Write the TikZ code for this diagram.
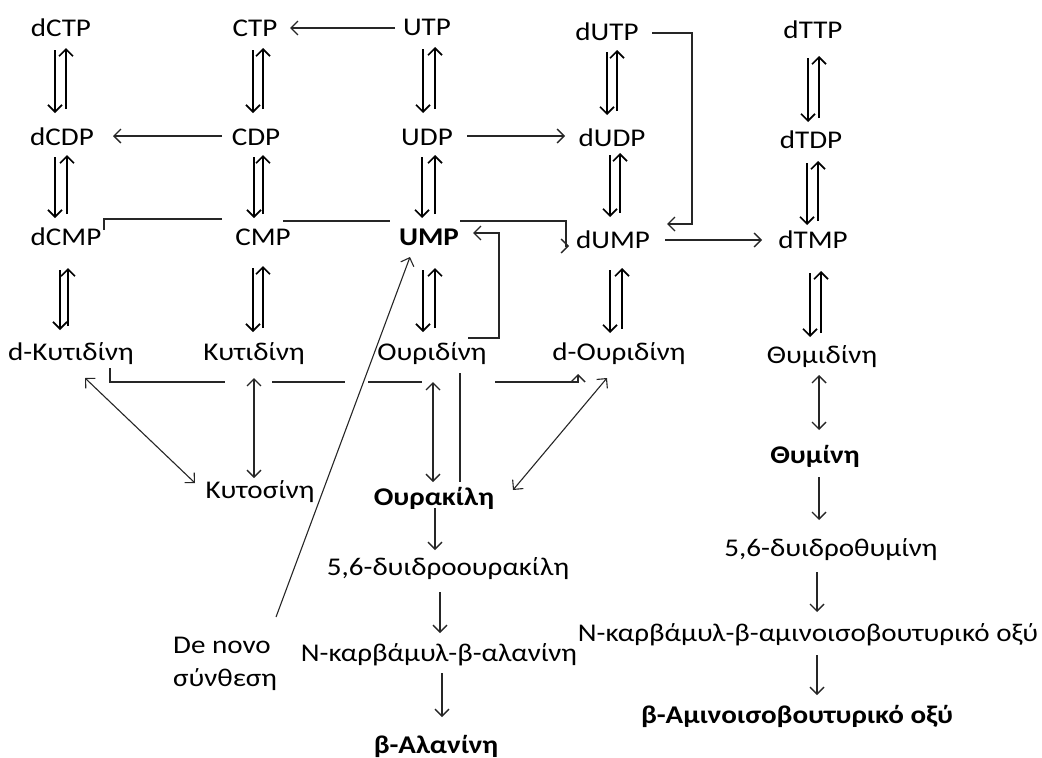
\documentclass[tikz,border=0pt]{standalone}
\usepackage{fontspec}
\setmainfont{Carlito}[FakeStretch=1.14]
\usetikzlibrary{arrows.meta,calc}
\newcommand\rxnpair[6]{%
  \draw[parr] ($(#1.center)+(#5,#3)$) -- ($(#1.center |- #2.center)+(#5,-#4)$);
  \draw[parr] ($(#1.center |- #2.center)+(#6,-#4-4)$) -- ($(#1.center)+(#6,#3-2)$);
}
\begin{document}
\begin{tikzpicture}[x=1pt,y=-1pt,
  lbl/.style={inner sep=0pt, text height=16pt, text depth=0pt, font=\fontsize{25.5}{30}\selectfont},
  blbl/.style={lbl, font=\fontsize{25.5}{30}\selectfont\bfseries},
  ln/.style={line width=1.4pt, black!85},
  thin/.style={line width=1.1pt, black!85},
  tip/.tip={Straight Barb[length=7pt,width=14pt]},
  arr/.style={ln, -tip},
  darr/.style={thin, tip-tip},
  parr/.style={line width=1.7pt, -tip},
]
\useasboundingbox (0,0) rectangle (1042,758);
% row 1
\node[lbl] (dCTP) at (61,28) {dCTP};
\node[lbl] (CTP) at (255,28) {CTP};
\node[lbl] (UTP) at (427,27) {UTP};
\node[lbl] (dUTP) at (607,32) {dUTP};
\node[lbl] (dTTP) at (813,30) {dTTP};
% row 2
\node[lbl] (dCDP) at (62,137) {dCDP};
\node[lbl] (CDP) at (256,137) {CDP};
\node[lbl] (UDP) at (427,137) {UDP};
\node[lbl] (dUDP) at (612,138) {dUDP};
\node[lbl] (dTDP) at (811,140) {dTDP};
% row 3
\node[lbl] (dCMP) at (66,237) {dCMP};
\node[lbl] (CMP) at (263,237) {CMP};
\node[blbl] (UMP) at (429,237) {UMP};
\node[lbl] (dUMP) at (613,240) {dUMP};
\node[lbl] (dTMP) at (813,240) {dTMP};
% row 4
\node[lbl] (dCyd) at (71,352) {d-Κυτιδίνη};
\node[lbl] (Cyd) at (254,352) {Κυτιδίνη};
\node[lbl] (Urd) at (432,352) {Ουριδίνη};
\node[lbl] (dUrd) at (619,352) {d-Ουριδίνη};
\node[lbl] (Thd) at (822,355) {Θυμιδίνη};
% bases and catabolites
\node[lbl] (Cyt) at (260,490) {Κυτοσίνη};
\node[blbl] (Ura) at (434,497) {Ουρακίλη};
\node[blbl] (Thy) at (815,455) {Θυμίνη};
\node[lbl] (DHU) at (448,567) {5,6-δυιδροουρακίλη};
\node[lbl] (NCBA) at (439,653) {N-καρβάμυλ-β-αλανίνη};
\node[blbl] (BALA) at (436,745) {β-Αλανίνη};
\node[lbl] (DHT) at (831,548) {5,6-δυιδροθυμίνη};
\node[lbl] (NCBAIB) at (808,633) {N-καρβάμυλ-β-αμινοισοβουτυρικό οξύ};
\node[blbl] (BAIB) at (797,715) {β-Αμινοισοβουτυρικό οξύ};
\node[inner sep=0pt, anchor=north west, align=left, font=\fontsize{25.5}{33}\selectfont] (DeNovo) at (173,637) {De novo\\σύνθεση};

% reversible pairs
\rxnpair{dCTP}{dCDP}{22}{24}{-6}{5}
\rxnpair{CTP}{CDP}{22}{24}{-2}{8}
\rxnpair{UTP}{UDP}{22}{24}{-4}{8}
\rxnpair{dUTP}{dUDP}{20}{23}{0}{10}
\rxnpair{dTTP}{dTDP}{28}{18}{-5}{6}
\rxnpair{dCDP}{dCMP}{20}{19}{-7}{5}
\rxnpair{CDP}{CMP}{20}{19}{-2}{7}
\rxnpair{UDP}{UMP}{20}{19}{-5}{8}
\rxnpair{dUDP}{dUMP}{17}{23}{-2}{8}
\rxnpair{dTDP}{dTMP}{23}{15}{-4}{7}
\rxnpair{dCMP}{dCyd}{33}{22}{-6}{2}
\rxnpair{CMP}{Cyd}{31}{20}{-10}{0}
\rxnpair{UMP}{Urd}{33}{20}{-6}{6}
\rxnpair{dUMP}{dUrd}{30}{19}{-3}{9}
\rxnpair{dTMP}{Thd}{33}{18}{-3}{8}

% horizontal conversions
\draw[arr] ($(UTP.center)+(-32,1)$) -- ($(CTP.center)+(35,0)$);
\draw[arr] ($(CDP.center)+(-34,-1)$) -- ($(dCDP.center)+(51,-1)$);
\draw[arr] ($(UDP.center)+(40,-1)$) -- ($(dUDP.center)+(-47,-2)$);
\draw[arr] ($(dUMP.center)+(52,0)$) -- ($(dTMP.center)+(-51,0)$);
\draw[arr] ($(dUTP.center)+(45,1)$) -- ($(dUTP.center)+(85,1)$) |- ($(dUMP.center)+(54,-16)$);
\draw[ln] ($(CMP.center)+(-41,-18)$) -| ($(dCMP.center)+(38,-7)$);
\draw[ln] ($(CMP.center)+(20,-16)$) -- ($(UMP.center)+(-39,-16)$);
\draw[arr] ($(UMP.center)+(31,-16)$) -| ($(dUMP.center)+(-47,6)$) -- ($(dUMP.center)+(-44,6)$);
\draw[arr] ($(Urd.center)+(36,-14)$) -| ($(UMP.center)+(70,-4)$) -- ($(UMP.center)+(44,-4)$);
\draw[darr, {}-tip] ($(DeNovo.north east)+(-1,-20)$) -- ($(UMP.center)+(-19,20)$);

% row-4 deamination line
\draw[ln] ($(dCyd.center)+(39,16)$) |- ($(Cyd.center)+(-29,30)$);
\draw[ln] ($(Cyd.center)+(18,30)$) -- ($(Urd.center)+(-87,30)$);
\draw[ln] ($(Urd.center)+(-64,30)$) -- ($(Urd.center)+(-10,30)$);
\draw[arr] ($(Urd.center)+(63,30)$) -| ($(dUrd.center)+(-41,22)$);
\draw[ln] ($(Urd.center)+(28,21)$) -- ($(Ura.center)+(26,-15)$);

% nucleoside <-> base
\draw[darr, ln] ($(Urd.center)+(1,30)$) -- ($(Ura.center)+(-1,-15)$);
\draw[darr] ($(dUrd.center)+(-12,26)$) -- ($(Ura.center)+(79,-7)$);
\draw[darr] ($(dCyd.center)+(14,26)$) -- ($(Cyt.center)+(-65,-7)$);
\draw[darr, ln] ($(Cyd.center)+(0,26)$) -- ($(Cyt.center)+(-6,-12)$);
\draw[darr, ln] ($(Thd.center)+(-3,20)$) -- ($(Thy.center)+(4,-25)$);

% catabolism
\draw[arr] ($(Thy.center)+(4,22)$) -- ($(DHT.center)+(-12,-28)$);
\draw[arr] ($(DHT.center)+(-14,24)$) -- ($(NCBAIB.center)+(9,-21)$);
\draw[arr] ($(NCBAIB.center)+(9,22)$) -- ($(BAIB.center)+(20,-20)$);
\draw[arr] ($(Ura.center)+(1,11)$) -- ($(DHU.center)+(-13,-17)$);
\draw[arr] ($(DHU.center)+(-8,25)$) -- ($(NCBA.center)+(1,-20)$);
\draw[arr] ($(NCBA.center)+(3,20)$) -- ($(BALA.center)+(6,-28)$);
\end{tikzpicture}
\end{document}
